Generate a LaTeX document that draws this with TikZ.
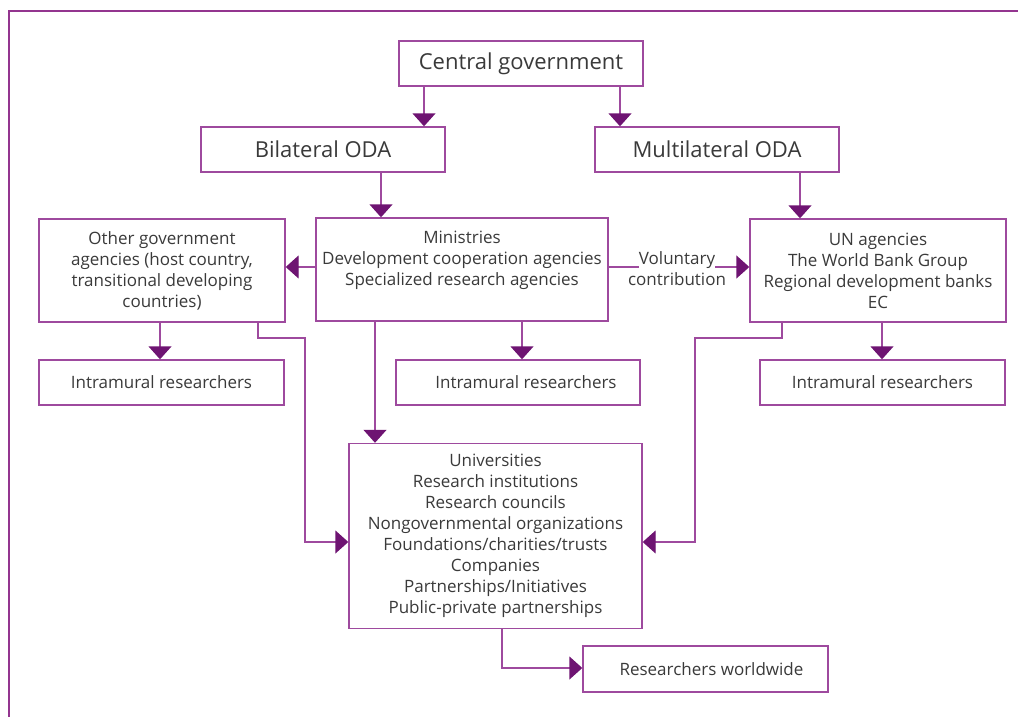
\documentclass[tikz,border=0pt]{standalone}
\usepackage{fontspec}
\setmainfont{Open Sans}
\usetikzlibrary{arrows.meta,positioning}
\definecolor{boxline}{HTML}{9E4A9E}
\definecolor{arrowfill}{HTML}{6E1472}
\definecolor{frameline}{HTML}{93358F}
\definecolor{txt}{HTML}{3A3A3A}
\tikzset{
  box/.style={draw=boxline, line width=1.4pt, fill=white, text=txt, align=center, inner sep=0pt, font=\fontsize{17}{21}\selectfont},
  hbox/.style={box, font=\fontsize{22}{26}\selectfont},
  conn/.style={draw=boxline, line width=1.4pt, -{Triangle[length=13pt,width=23pt,fill=arrowfill,color=arrowfill]}},
  plain/.style={draw=boxline, line width=1.4pt},
  lbl/.style={text=txt, inner sep=0pt, align=center, font=\fontsize{17}{21}\selectfont}
}
\begin{document}
\begin{tikzpicture}[x=1pt,y=-1pt]
\useasboundingbox (0,0) rectangle (1018,717);
% frame
\draw[frameline, line width=2pt] (9,717) -- (9,11) -- (1018,11);
% nodes
\node[hbox, minimum width=244pt, minimum height=45pt] (cg) at (521,63.5) {Central government};
\node[hbox, minimum width=244pt, minimum height=45pt] (bi) at (323,149.5) {Bilateral ODA};
\node[hbox, minimum width=244pt, minimum height=45pt] (mu) at (717,149.5) {Multilateral ODA};
\node[box, minimum width=246pt, minimum height=103pt] (og) at (162,270.5) {Other government\\agencies (host country,\\transitional developing\\countries)};
\node[box, minimum width=292pt, minimum height=103pt] (mi) at (462,269.5) {};
\node[lbl] (mitext) at (462,260) {Ministries\\Development cooperation agencies\\Specialized research agencies};
\node[box, minimum width=256pt, minimum height=103pt] (un) at (878,270.5) {UN agencies\\The World Bank Group\\Regional development banks\\EC};
\node[box, minimum width=245pt, minimum height=45pt] (il) at (161.5,382.5) {Intramural researchers};
\node[box, minimum width=244pt, minimum height=45pt] (im) at (518,382.5) {\hspace*{16pt}Intramural researchers};
\node[box, minimum width=245pt, minimum height=45pt] (ir) at (882.5,382.5) {Intramural researchers};
\node[box, minimum width=293pt, minimum height=185pt] (uv) at (495.5,536) {Universities\\Research institutions\\Research councils\\Nongovernmental organizations\\Foundations/charities/trusts\\Companies\\Partnerships/Initiatives\\Public-private partnerships};
\node[box, minimum width=245pt, minimum height=46pt] (rw) at (705.5,669) {\hspace*{12pt}Researchers worldwide};
\node[lbl, anchor=base] (v1) at (677,264) {Voluntary};
\node[lbl, anchor=base] (v2) at (677,285) {contribution};
% bend coordinates
\coordinate (a1) at (258,338);
\coordinate (a2) at (305,338);
\coordinate (b1) at (782,338);
\coordinate (b2) at (695,338);
% connectors
\draw[conn] (cg.south -| 424,0) -- (bi.north -| 424,0);
\draw[conn] (cg.south -| 620,0) -- (mu.north -| 620,0);
\draw[conn] (bi.south -| 381,0) -- (mi.north -| 381,0);
\draw[conn] (mu.south -| 800,0) -- (un.north -| 800,0);
\draw[conn] (mi.west |- 0,267) -- (og.east |- 0,267);
\draw[plain] (mi.east |- 0,267) -- (v1.west |- 0,267);
\draw[conn] (v1.east |- 0,267) -- (un.west |- 0,267);
\draw[conn] (og.south -| 160,0) -- (il.north -| 160,0);
\draw[conn] (mi.south -| 522,0) -- (im.north -| 522,0);
\draw[conn] (un.south -| 882,0) -- (ir.north -| 882,0);
\draw[conn] (mi.south -| 375,0) -- (uv.north -| 375,0);
\draw[conn] (og.south -| a1) -- (a1) -- (a2) -- (a2 |- 0,542) -- (uv.west |- 0,542);
\draw[conn] (un.south -| b1) -- (b1) -- (b2) -- (b2 |- 0,542) -- (uv.east |- 0,542);
\draw[conn] (uv.south -| 502,0) -- (502,668) -- (rw.west |- 0,668);
\end{tikzpicture}
\end{document}
